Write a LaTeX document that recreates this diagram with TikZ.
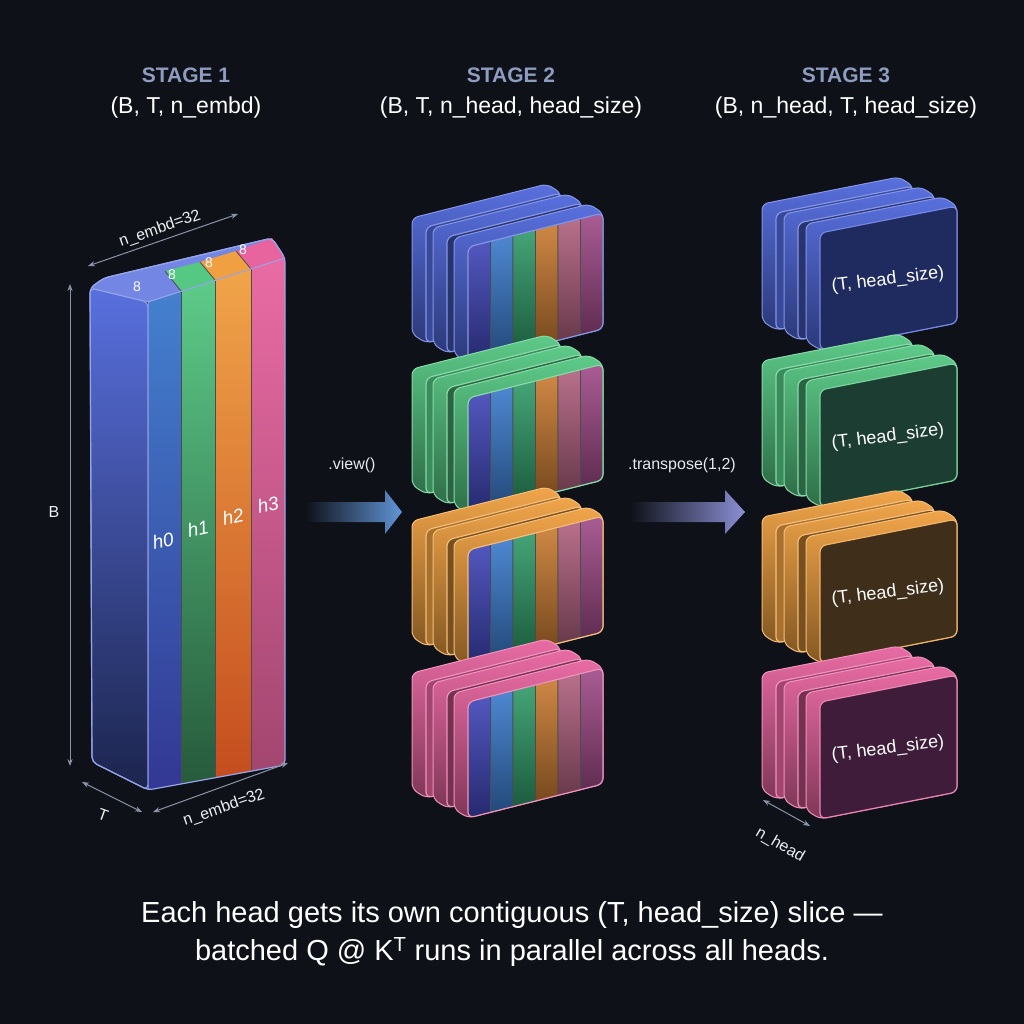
\documentclass[tikz,border=0pt]{standalone}
\usepackage{fontspec}
\setmainfont{Liberation Sans}
\usetikzlibrary{arrows.meta}
\definecolor{bg}{HTML}{0E1118}
\definecolor{ttl}{HTML}{8E9CC0}
\definecolor{dim}{HTML}{8A93A8}
\definecolor{cB}{HTML}{5068DC}
\definecolor{cG}{HTML}{55C883}
\definecolor{cO}{HTML}{F0A040}
\definecolor{cP}{HTML}{E8649F}
\definecolor{dB}{HTML}{1F2A5E}
\definecolor{dG}{HTML}{1C3E32}
\definecolor{dO}{HTML}{3E2E1A}
\definecolor{dP}{HTML}{3E1C3A}
\definecolor{s1}{HTML}{3F45B8}
\definecolor{s2}{HTML}{3A7ACC}
\definecolor{s3}{HTML}{2F9A68}
\definecolor{s4}{HTML}{C87A30}
\definecolor{s5}{HTML}{B0607E}
\definecolor{s6}{HTML}{A04A88}
\tikzset{
 ttlstyle/.style={text=ttl,font=\bfseries\fontsize{21}{25}\selectfont},
 subst/.style={text=white,font=\fontsize{23}{27}\selectfont},
 dimline/.style={dim,line width=1pt,{Stealth[length=7pt]}-{Stealth[length=7pt]}},
 dimtxt/.style={text=white!85!dim,font=\fontsize{16}{18}\selectfont},
 lbl/.style={text=white,font=\fontsize{18}{21}\selectfont},
}
% slab body: x y w s h color
\newcommand{\slabbody}[6]{%
 \shade[top color=#6!95!white,bottom color=#6!55!black,draw=#6!70!white,line width=1pt,rounded corners=6pt]
 (#1-14,#2-9) -- (#1+#3-14,#2-#4-9) -- (#1+#3,#2-#4) -- (#1+#3,#2-#4+#5) -- (#1,#2+#5) -- (#1-14,#2+#5-9) -- cycle;}
\newcommand{\slabfront}[7]{% x y w s h fill edge
 \fill[#6,draw=#7,line width=1.2pt,rounded corners=6pt]
 (#1,#2) -- (#1+#3,#2-#4) -- (#1+#3,#2-#4+#5) -- (#1,#2+#5) -- cycle;}
\newcommand{\stagetwo}[3]{% x y color
 \slabbody{#1-42}{#2-20}{135}{34}{116}{#3}
 \slabfront{#1-42}{#2-20}{135}{34}{116}{#3!70!black}{#3!70!white}
 \slabbody{#1-21}{#2-10}{135}{34}{116}{#3}
 \slabfront{#1-21}{#2-10}{135}{34}{116}{#3!50!black}{#3!70!white}
 \slabbody{#1}{#2}{135}{34}{116}{#3}
 \begin{scope}
 \clip[rounded corners=6pt] (#1,#2) -- (#1+135,#2-34) -- (#1+135,#2+82) -- (#1,#2+116) -- cycle;
 \foreach \c [count=\i from 0] in {s1,s2,s3,s4,s5,s6}{
  \shade[top color=\c!90!white,bottom color=\c!60!black,draw=black!70,line width=0.6pt]
   (#1+\i*22.5,#2-\i*5.667) -- (#1+\i*22.5+22.5,#2-\i*5.667-5.667) -- (#1+\i*22.5+22.5,#2-\i*5.667-5.667+116) -- (#1+\i*22.5,#2-\i*5.667+116) -- cycle;}
 \end{scope}
 \draw[#3!70!white,line width=1.2pt,rounded corners=6pt] (#1,#2) -- (#1+135,#2-34) -- (#1+135,#2+82) -- (#1,#2+116) -- cycle;}
\newcommand{\stagethree}[5]{% x y color dark name
 \slabbody{#1-44}{#2-20}{137}{27}{117}{#3}
 \slabfront{#1-44}{#2-20}{137}{27}{117}{#3!70!black}{#3!70!white}
 \slabbody{#1-22}{#2-10}{137}{27}{117}{#3}
 \slabfront{#1-22}{#2-10}{137}{27}{117}{#3!50!black}{#3!70!white}
 \slabbody{#1}{#2}{137}{27}{117}{#3}
 \slabfront{#1}{#2}{137}{27}{117}{#4}{#3!80!white}
 \node[lbl,rotate=7] (#5) at (#1+68,#2+47) {(T, head\_size)};}
\begin{document}
\begin{tikzpicture}[x=1pt,y=-1pt]
\fill[bg] (0,0) rectangle (1024,1024);
\useasboundingbox (0,0) rectangle (1024,1024);
% titles
\node[ttlstyle] (t1) at (186,75) {STAGE 1};
\node[subst] (u1) at (186,108) {(B, T, n\_embd)};
\node[ttlstyle] (t2) at (511,75) {STAGE 2};
\node[subst] (u2) at (511,108) {(B, T, n\_head, head\_size)};
\node[ttlstyle] (t3) at (846,75) {STAGE 3};
\node[subst] (u3) at (846,108) {(B, n\_head, T, head\_size)};
% stage 1 box
\shade[top color=cB!95!white,bottom color=cB!35!black,draw=cB!60!white,line width=1pt,rounded corners=5pt]
 (90,288) -- (148,302) -- (148,790) -- (92,762) -- cycle;
\fill[cB!80!white,draw=cB!60!white,line width=1pt,rounded corners=4pt]
 (90,288) -- (104,278) -- (272,238) -- (285,258) -- (148,302) -- cycle;
\fill[cG] (165,271) -- (181,291) -- (215,280) -- (200,262) -- cycle;
\fill[cO] (200,262) -- (215,280) -- (251,269) -- (236,251) -- cycle;
\fill[cP] (236,251) -- (251,269) -- (285,258) -- (272,238) -- cycle;
\draw[black!70,line width=0.8pt] (165,271) -- (181,291) (200,262) -- (215,280) (236,251) -- (251,269);
\shade[top color=s2!95!white,bottom color=s1!80!black] (148,302) -- (181,291.4) -- (181,784) -- (148,790) -- cycle;
\shade[top color=cG!95!white,bottom color=cG!45!black] (181,291.4) -- (215,280.5) -- (215,777.8) -- (181,784) -- cycle;
\shade[top color=cO!95!white,bottom color=cO!60!red!80!black] (215,280.5) -- (251,268.9) -- (251,771.2) -- (215,777.8) -- cycle;
\shade[top color=cP!95!white,bottom color=cP!70!black] (251,268.9) -- (285,258) -- (285,765) -- (251,771.2) -- cycle;
\draw[black!70,line width=0.8pt] (181,291.4) -- (181,784) (215,280.5) -- (215,777.8) (251,268.9) -- (251,771.2);
\draw[cB!60!white,line width=1.2pt,rounded corners=5pt] (90,288) -- (104,278) -- (272,238) -- (285,258) -- (285,765) -- (148,790) -- (92,762) -- cycle;
\draw[cB!60!white,line width=1pt] (148,302) -- (285,258) (148,302) -- (148,790);
\foreach \x/\y/\n in {137/287/a,172/275/b,209/263/c,243/250/d}
 \node[text=white,font=\fontsize{14}{16}\selectfont,inner sep=1pt] (e\n) at (\x,\y) {8};
\node[lbl,rotate=12,font=\itshape\fontsize{19}{22}\selectfont] (h0) at (163,541) {h0};
\node[lbl,rotate=12,font=\itshape\fontsize{19}{22}\selectfont] (h1) at (198,529) {h1};
\node[lbl,rotate=12,font=\itshape\fontsize{19}{22}\selectfont] (h2) at (233,517) {h2};
\node[lbl,rotate=12,font=\itshape\fontsize{19}{22}\selectfont] (h3) at (268,505) {h3};
% dims stage 1
\coordinate (nt1) at (88,266); \coordinate (nt2) at (238,214);
\draw[dimline] (nt1) -- (nt2);
\node[dimtxt,rotate=19] (ntl) at (160,229) {n\_embd=32};
\coordinate (b1) at (70,284); \coordinate (b2) at (70,766);
\draw[dimline] (b1) -- (b2);
\node[dimtxt] (bl) at (54,512) {B};
\coordinate (tt1) at (82,782); \coordinate (tt2) at (142,812);
\draw[dimline] (tt1) -- (tt2);
\node[dimtxt,rotate=-20] (tl) at (103,815) {T};
\coordinate (nb1) at (153,812); \coordinate (nb2) at (288,763);
\draw[dimline] (nb1) -- (nb2);
\node[dimtxt,rotate=19] (nbl) at (224,808) {n\_embd=32};
% arrows
\shade[left color=bg,right color=s2!80!white] (305,502) -- (385,502) -- (385,490) -- (402,512) -- (385,534) -- (385,522) -- (305,522) -- cycle;
\node[dimtxt,text=white!80!dim] (v) at (352,465) {.view()};
\shade[left color=bg,right color=s1!60!white] (630,502) -- (725,502) -- (725,490) -- (745,512) -- (725,534) -- (725,522) -- (630,522) -- cycle;
\node[dimtxt,text=white!80!dim] (tr) at (682,465) {.transpose(1,2)};
% stage 2
\stagetwo{468}{247}{cB}
\stagetwo{468}{398}{cG}
\stagetwo{468}{550}{cO}
\stagetwo{468}{702}{cP}
% stage 3
\stagethree{820}{233}{cB}{dB}{q1}
\stagethree{820}{390}{cG}{dG}{q2}
\stagethree{820}{546}{cO}{dO}{q3}
\stagethree{820}{702}{cP}{dP}{q4}
\coordinate (nh1) at (763,800); \coordinate (nh2) at (810,826);
\draw[dimline] (nh1) -- (nh2);
\node[dimtxt,rotate=-30,inner sep=1pt] (nhl) at (780,845) {n\_head};
% caption
\node[text=white,font=\fontsize{29}{38}\selectfont,align=center] (cap) at (512,934)
 {Each head gets its own contiguous (T, head\_size) slice —\\batched Q @ K\textsuperscript{T} runs in parallel across all heads.};
\end{tikzpicture}
\end{document}
